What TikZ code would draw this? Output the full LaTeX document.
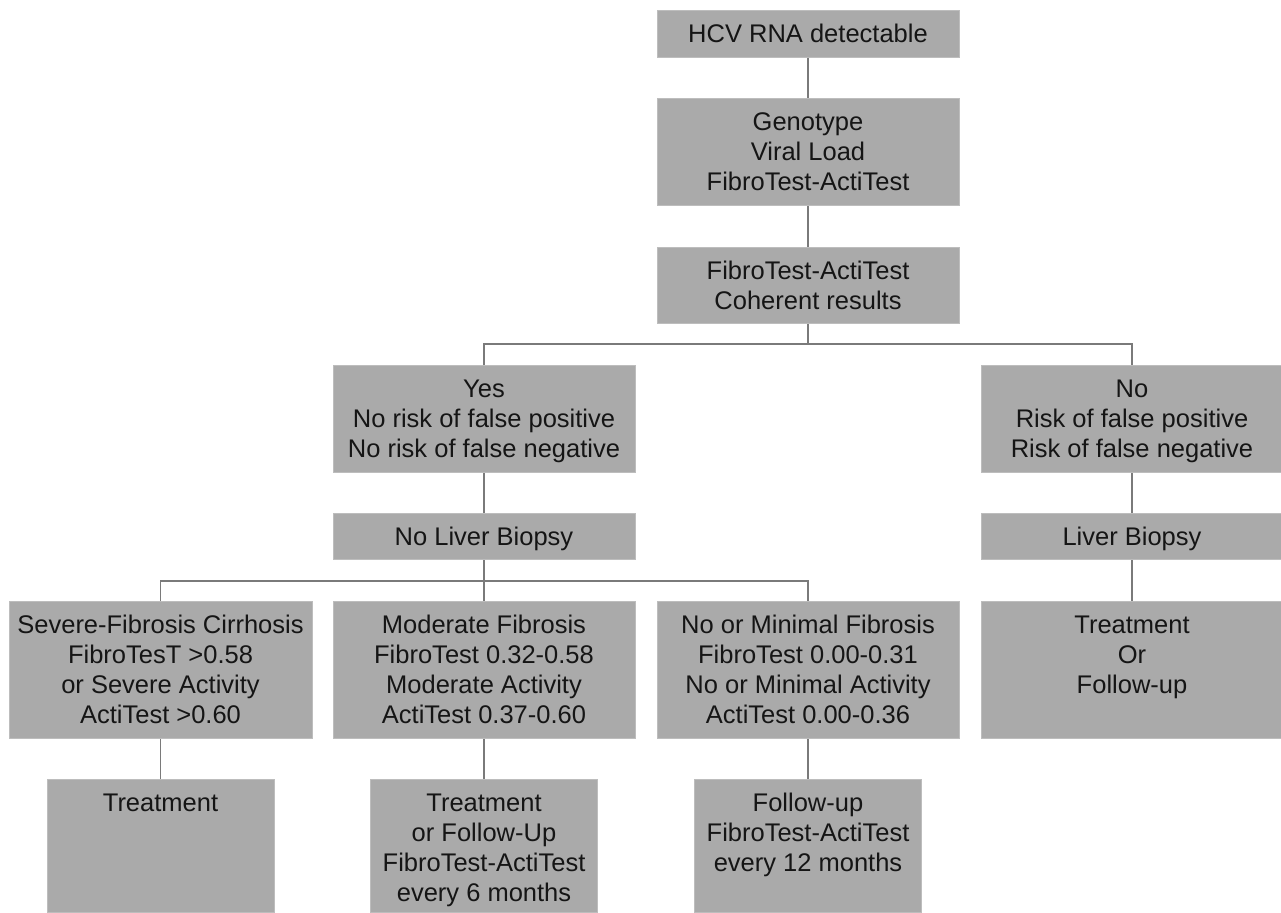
\documentclass[tikz,border=0pt]{standalone}
\usepackage{fontspec}
\setmainfont{Liberation Sans}
\definecolor{boxfill}{HTML}{AAAAAA}
\definecolor{boxline}{HTML}{BDBDBD}
\definecolor{conn}{HTML}{7A7A7A}
\definecolor{txt}{HTML}{151515}
\newcommand\bxt[3]{\begin{minipage}[c][#2][t]{#1}\centering\rule{0pt}{32pt}#3\end{minipage}}
\tikzset{
  box/.style={draw=boxline, line width=1pt, fill=boxfill, inner sep=0pt, anchor=north,
    text=txt, font=\fontsize{25.5}{30}\selectfont},
  conline/.style={draw=conn, line width=1.5pt}
}
\begin{document}
\begin{tikzpicture}[x=1pt, y=-1pt]
\useasboundingbox (0,0) rectangle (1281,912);
\fill[white] (0,0) rectangle (1281,912);
% column 808 top
\node[box] (hcv) at (808,10) {\bxt{302pt}{47pt}{HCV RNA detectable}};
\node[box] (gen) at (808,98) {\bxt{302pt}{107pt}{Genotype\\Viral Load\\FibroTest-ActiTest}};
\node[box] (coh) at (808,247) {\bxt{302pt}{76pt}{FibroTest-ActiTest\\Coherent results}};
% second level
\node[box] (yes) at (484,365) {\bxt{302pt}{107pt}{Yes\\No risk of false positive\\No risk of false negative}};
\node[box] (no) at (1132,365) {\bxt{302pt}{107pt}{No\\Risk of false positive\\Risk of false negative}};
\node[box] (nlb) at (484,513) {\bxt{302pt}{46pt}{No Liver Biopsy}};
\node[box] (lb) at (1132,513) {\bxt{302pt}{46pt}{Liver Biopsy}};
% third level
\node[box] (sev) at (160.5,601) {\bxt{303pt}{137pt}{Severe-Fibrosis Cirrhosis\\FibroTesT >0.58\\or Severe Activity\\ActiTest >0.60}};
\node[box] (mod) at (484,601) {\bxt{302pt}{137pt}{Moderate Fibrosis\\FibroTest 0.32-0.58\\Moderate Activity\\ActiTest 0.37-0.60}};
\node[box] (nom) at (808,601) {\bxt{302pt}{137pt}{No or Minimal Fibrosis\\FibroTest 0.00-0.31\\No or Minimal Activity\\ActiTest 0.00-0.36}};
\node[box] (tof) at (1132,601) {\bxt{302pt}{137pt}{Treatment\\Or\\Follow-up}};
% fourth level
\node[box] (tr1) at (160.5,779) {\bxt{227pt}{133pt}{Treatment}};
\node[box] (tr2) at (484,779) {\bxt{227pt}{133pt}{Treatment\\or Follow-Up\\FibroTest-ActiTest\\every 6 months}};
\node[box] (tr3) at (808,779) {\bxt{227pt}{133pt}{Follow-up\\FibroTest-ActiTest\\every 12 months}};
% junctions
\coordinate (j1) at (808,344);
\coordinate (j2) at (484,581);
% connectors
\draw[conline] (hcv.south) -- (gen.north);
\draw[conline] (gen.south) -- (coh.north);
\draw[conline] (coh.south) -- (j1);
\draw[conline] (yes.north) |- (j1) -| (no.north);
\draw[conline] (yes.south) -- (nlb.north);
\draw[conline] (no.south) -- (lb.north);
\draw[conline] (nlb.south) -- (mod.north);
\draw[conline] (sev.north) |- (j2) -| (nom.north);
\draw[conline] (lb.south) -- (tof.north);
\draw[conline] (sev.south) -- (tr1.north);
\draw[conline] (mod.south) -- (tr2.north);
\draw[conline] (nom.south) -- (tr3.north);
\end{tikzpicture}
\end{document}
